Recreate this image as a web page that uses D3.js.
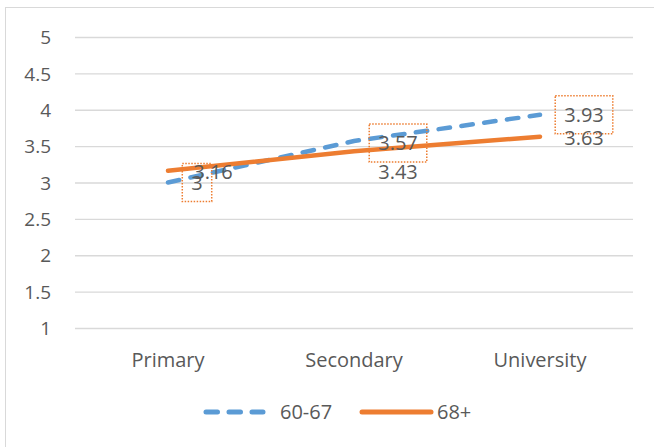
<!DOCTYPE html>
<html>
<head>
<meta charset="utf-8">
<script src="https://cdn.jsdelivr.net/npm/d3@7"></script>
<style>
  html, body { margin: 0; padding: 0; background: #fff; }
  svg { display: block; font-family: "Open Sans", "Liberation Sans", sans-serif; }
</style>
</head>
<body>
<svg id="chart" width="654" height="447"></svg>
<script>
// Education level categories and mean scores per age group
const categories = ["Primary", "Secondary", "University"];
const seriesNames = ["60-67", "68+"];
const values6067 = [3, 3.57, 3.93];
const values68 = [3.16, 3.43, 3.63];
const yTicks = [1, 1.5, 2, 2.5, 3, 3.5, 4, 4.5, 5];

// Label placement (px offsets from each point) for the two series
const labelDx6067 = [29, 44, 44];
const labelDy6067 = [0, 2, 0];
const labelDx68 = [45, 44, 44];
const labelDy68 = [1, 21, 1];

const colors = { "60-67": "#5B9BD5", "68+": "#ED7D31" };
const textColor = "#595959";
const dash = "11.5,11.5";

const svg = d3.select("#chart");
const W = 654, H = 447;
const margin = { left: 75, right: 21, top: 37, bottom: 119 };

// outer chart frame
svg.append("rect")
  .attr("x", 5.5).attr("y", 7.5)
  .attr("width", W + 10).attr("height", H + 10)
  .attr("fill", "none").attr("stroke", "#d9d9d9").attr("stroke-width", 1);

const x = d3.scaleBand()
  .domain(categories)
  .range([margin.left, W - margin.right])
  .paddingInner(0).paddingOuter(0);

const y = d3.scaleLinear()
  .domain([1, 5])
  .range([H - margin.bottom, margin.top]);

const cx = c => x(c) + x.bandwidth() / 2;

// gridlines
const grid = svg.append("g")
  .attr("transform", `translate(${margin.left},0)`)
  .call(d3.axisLeft(y).tickValues(yTicks)
    .tickSize(-(W - margin.right - margin.left)).tickFormat(""));
grid.select(".domain").remove();
grid.selectAll("line").attr("stroke", "#d9d9d9").attr("stroke-width", 1.3);

// y axis labels
const yAxis = svg.append("g")
  .attr("transform", `translate(${margin.left - 21},0)`)
  .call(d3.axisLeft(y).tickValues(yTicks).tickSize(0).tickFormat(d3.format("")));
yAxis.select(".domain").remove();
yAxis.selectAll("text")
  .attr("fill", textColor).attr("font-size", 19)
  .attr("font-family", "Open Sans, sans-serif").attr("dy", "0.35em");

// x axis labels
const xAxis = svg.append("g")
  .attr("transform", `translate(0,${y(1) + 29})`)
  .call(d3.axisBottom(x).tickSize(0));
xAxis.select(".domain").remove();
xAxis.selectAll("text")
  .attr("fill", textColor).attr("font-size", 20)
  .attr("font-family", "Open Sans, sans-serif").attr("dy", "0.35em");

const line = d3.line().x((d, i) => cx(categories[i])).y(d => y(d));

// series lines
svg.append("path")
  .datum(values6067)
  .attr("d", line)
  .attr("fill", "none")
  .attr("stroke", colors["60-67"])
  .attr("stroke-width", 4.5)
  .attr("stroke-dasharray", dash)
  .attr("stroke-linecap", "round");

svg.append("path")
  .datum(values68)
  .attr("d", line)
  .attr("fill", "none")
  .attr("stroke", colors["68+"])
  .attr("stroke-width", 4.5)
  .attr("stroke-linecap", "round");

// data labels
const labelFmt = d3.format("");
const labelLayer = svg.append("g");
function drawLabels(vals, dxs, dys, boxed) {
  vals.forEach((v, i) => {
    const lx = cx(categories[i]) + dxs[i];
    const ly = y(v) + dys[i];
    const g = labelLayer.append("g");
    const box = boxed ? g.append("rect") : null;
    const t = g.append("text")
      .attr("x", lx).attr("y", ly)
      .attr("text-anchor", "middle").attr("dy", "0.35em")
      .attr("fill", textColor).attr("font-size", 20)
      .text(labelFmt(v));
    if (box) {
      const bw = t.node().getComputedTextLength() + 18;
      box.attr("x", lx - bw / 2).attr("y", ly - 19)
        .attr("width", bw).attr("height", 38)
        .attr("fill", "none")
        .attr("stroke", colors["68+"])
        .attr("stroke-width", 1.5)
        .attr("stroke-dasharray", "1.5,1.5");
    }
  });
}
drawLabels(values6067, labelDx6067, labelDy6067, true);
drawLabels(values68, labelDx68, labelDy68, false);

// legend
const legend = svg.append("g").attr("transform", `translate(0,412)`);
legend.append("line")
  .attr("x1", 206).attr("x2", 263).attr("y1", 0).attr("y2", 0)
  .attr("stroke", colors["60-67"]).attr("stroke-width", 5)
  .attr("stroke-dasharray", dash).attr("stroke-linecap", "round");
legend.append("text")
  .attr("x", 280).attr("y", 0).attr("dy", "0.35em")
  .attr("fill", textColor).attr("font-size", 20)
  .text(seriesNames[0]);
legend.append("line")
  .attr("x1", 362).attr("x2", 431).attr("y1", 0).attr("y2", 0)
  .attr("stroke", colors["68+"]).attr("stroke-width", 5)
  .attr("stroke-linecap", "round");
legend.append("text")
  .attr("x", 437).attr("y", 0).attr("dy", "0.35em")
  .attr("fill", textColor).attr("font-size", 20)
  .text(seriesNames[1]);
</script>
</body>
</html>
